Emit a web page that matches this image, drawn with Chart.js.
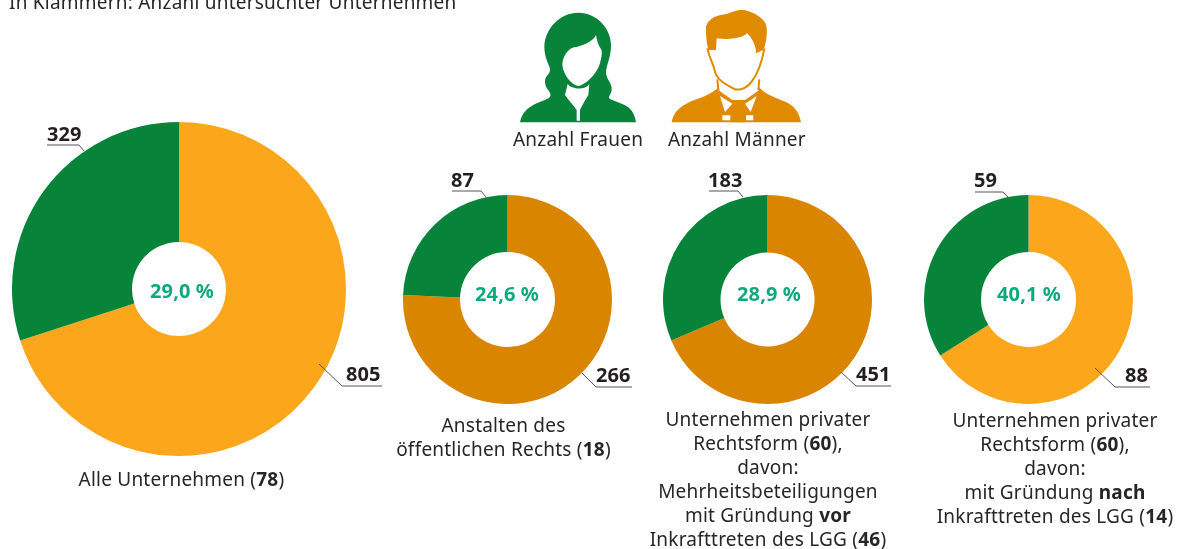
<!DOCTYPE html>
<html lang="de">
<head>
<meta charset="utf-8">
<title>Anzahl Frauen und Männer</title>
<script src="https://cdn.jsdelivr.net/npm/chart.js@4"></script>
<style>
html,body{margin:0;padding:0;background:#fff;overflow:hidden}
#stage{position:relative;width:1189px;height:549px;overflow:hidden}
canvas{position:absolute}
svg{position:absolute;left:0;top:0}
text{font-family:"Noto Sans",sans-serif;font-size:19px;letter-spacing:.22px;fill:#262626}
.b{font-weight:700}
.num{font-weight:700;font-size:20px;letter-spacing:0;fill:#231f20}
.pct{font-weight:700;font-size:20px;letter-spacing:.1px;fill:#10a97e}
.lead{fill:none;stroke:#555;stroke-width:1}
</style>
</head>
<body>
<div id="stage">
<canvas id="c0"></canvas><canvas id="c1"></canvas><canvas id="c2"></canvas><canvas id="c3"></canvas>
<svg id="ov" width="1189" height="549" viewBox="0 0 1189 549" xmlns="http://www.w3.org/2000/svg">
  <text x="9" y="9">In Klammern: Anzahl untersuchter Unternehmen</text>

  <g transform="translate(500,0) scale(.33333)">
    <path fill="#07843a" d="M60,367 C65,340 80,325 105,312 C125,302 145,298 150,290 C158,275 135,270 135,245 C135,225 152,225 150,205 C145,190 133,170 133,140 C135,85 180,38 235,38 C290,38 333,85 333,135 C333,175 318,195 318,220 C320,240 337,250 335,270 C333,285 322,290 330,297 C345,305 370,310 385,322 C400,335 405,350 408,367 Z"/>
    <path fill="#fff" d="M288,105 C280,125 240,140 222,142 C200,148 187,175 187,195 C190,225 215,255 235,258 C255,255 290,225 300,190 C305,170 308,155 303,148 C295,135 290,120 288,105 Z"/>
    <path fill="#fff" d="M203,252 C215,268 255,272 268,252 L265,285 C255,300 245,320 240,330 L240,362 L230,362 L230,330 C220,315 205,300 195,285 Z"/>

    <path fill="#e08a00" d="M515,367 C520,335 540,320 570,305 C600,295 640,280 655,262 L778,262 C790,280 830,295 860,307 C885,320 898,340 903,367 Z"/>
    <path fill="#fff" d="M655,235 L775,235 L775,272 L735,300 L697,300 L658,272 Z"/>
    <path fill="#fff" d="M660,288 L697,311 L675,336 Z M770,288 L735,311 L752,336 Z M667,346 L691,346 L691,361 L667,361 Z M738,346 L760,346 L760,361 L738,361 Z"/>
    <path fill="#e08a00" d="M618,80 C625,55 650,45 680,42 C700,35 720,25 740,32 C770,40 800,60 800,85 C802,115 795,140 790,150 L768,160 C768,140 760,120 742,100 C725,115 690,120 650,115 L648,150 L625,150 C620,130 617,100 618,80 Z"/>
    <path fill="none" stroke="#e08a00" stroke-width="6" d="M622,145 C628,175 640,190 645,215 C650,240 680,255 705,268 C725,272 745,260 755,245 C770,225 785,190 793,145"/>
    <path fill="none" stroke="#e08a00" stroke-width="6" d="M652,238 L655,270 M778,238 L775,270"/>
    <path fill="#e08a00" d="M697,308 L735,308 L724,335 L735,367 L695,367 L707,335 Z"/>
  </g>
  <text x="513" y="146">Anzahl Frauen</text>
  <text x="668" y="146">Anzahl Männer</text>

  <polyline class="lead" points="47,145 79,145 84,151"/>
  <polyline class="lead" points="319,364 342,386 382,386"/>
  <polyline class="lead" points="452,191 481,191 486,197"/>
  <polyline class="lead" points="582,373 596,387 632,387"/>
  <polyline class="lead" points="709,191 738,191 743,197"/>
  <polyline class="lead" points="841,372 856,386 891,386"/>
  <polyline class="lead" points="975,192 1003,192 1008,197"/>
  <polyline class="lead" points="1095,368 1115,387 1150,387"/>

  <text class="num" x="47" y="141">329</text>
  <text class="num" x="346" y="381">805</text>
  <text class="num" x="451" y="187">87</text>
  <text class="num" x="596" y="382">266</text>
  <text class="num" x="708" y="187">183</text>
  <text class="num" x="856" y="381">451</text>
  <text class="num" x="974" y="187">59</text>
  <text class="num" x="1125" y="382">88</text>

  <text class="pct" x="182" y="298" text-anchor="middle">29,0 %</text>
  <text class="pct" x="507" y="301" text-anchor="middle">24,6 %</text>
  <text class="pct" x="769" y="301" text-anchor="middle">28,9 %</text>
  <text class="pct" x="1029" y="301" text-anchor="middle">40,1 %</text>

  <g text-anchor="middle">
    <text x="181.5" y="486">Alle Unternehmen (<tspan class="b">78</tspan>)</text>
    <text x="503.5" y="432">Anstalten des</text>
    <text x="503.5" y="456">öffentlichen Rechts (<tspan class="b">18</tspan>)</text>
    <text x="768" y="426">Unternehmen privater</text>
    <text x="768" y="450">Rechtsform (<tspan class="b">60</tspan>),</text>
    <text x="768" y="474">davon:</text>
    <text x="768" y="498">Mehrheitsbeteiligungen</text>
    <text x="768" y="522">mit Gründung <tspan class="b">vor</tspan></text>
    <text x="768" y="546">Inkrafttreten des LGG (<tspan class="b">46</tspan>)</text>
    <text x="1055" y="427">Unternehmen privater</text>
    <text x="1055" y="451">Rechtsform (<tspan class="b">60</tspan>),</text>
    <text x="1055" y="475">davon:</text>
    <text x="1055" y="499">mit Gründung <tspan class="b">nach</tspan></text>
    <text x="1055" y="523">Inkrafttreten des LGG (<tspan class="b">14</tspan>)</text>
  </g>
</svg>
</div>
<script>
// Printed categories and counts (shown as text labels in the figure)
const categories = ["Alle Unternehmen", "Anstalten des öffentlichen Rechts", "Mehrheitsbeteiligungen vor LGG", "Gründung nach LGG"];
const anzahlFrauen = [329, 87, 183, 59];
const anzahlMaenner = [805, 266, 451, 88];
// Ring shares as actually drawn in the picture, in percent (read from the slice boundaries)
const ringFrauen = [30, 24.3, 31.4, 34];
const ringMaenner = [70, 75.7, 68.6, 66];
const colorFrauen = "#07843a";
const colorMaenner = ["#fba61b", "#da8500", "#da8500", "#fba61b"];

const rings = [
  {cx: 178.5, cy: 288.5, r: 167, hole: 47},
  {cx: 507, cy: 299.5, r: 104.5, hole: 47.5},
  {cx: 767.5, cy: 299.5, r: 104.5, hole: 47},
  {cx: 1028.5, cy: 299.5, r: 104.5, hole: 47.5}
];

categories.forEach((name, i) => {
  const g = rings[i], cv = document.getElementById("c" + i), d = g.r * 2;
  cv.style.left = (g.cx - g.r) + "px";
  cv.style.top = (g.cy - g.r) + "px";
  cv.width = d; cv.height = d;
  cv.style.width = d + "px"; cv.style.height = d + "px";
  new Chart(cv, {
    type: "doughnut",
    data: {
      labels: ["Männer", "Frauen"],
      datasets: [{
        label: name,
        data: [ringMaenner[i], ringFrauen[i]],
        backgroundColor: [colorMaenner[i], colorFrauen],
        borderWidth: 0,
        hoverOffset: 0
      }]
    },
    options: {
      responsive: false,
      animation: false,
      cutout: g.hole,
      layout: {padding: 0},
      plugins: {legend: {display: false}, tooltip: {enabled: false}, title: {display: false}}
    }
  });
});
</script>
</body>
</html>
